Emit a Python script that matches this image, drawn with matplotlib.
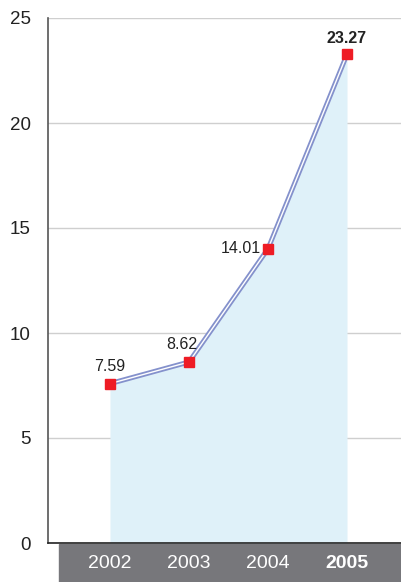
import matplotlib.pyplot as plt
from matplotlib.patches import Rectangle

years = ['2002', '2003', '2004', '2005']
values = [7.59, 8.62, 14.01, 23.27]
labels = ['7.59', '8.62', '14.01', '23.27']
yticks = [0, 5, 10, 15, 20, 25]

plt.rcParams['font.family'] = ['Liberation Sans', 'DejaVu Sans']

fig = plt.figure(figsize=(4.01, 5.82), dpi=100)
ax = fig.add_axes([47.5 / 401, 39 / 582, 1 - 47.5 / 401, 525 / 582])
ax.set_zorder(2)

x = list(range(len(years)))

# grey band behind the year labels
fig.patches.append(Rectangle((59 / 401, 0), 1 - 59 / 401, 38 / 582,
                             transform=fig.transFigure, color='#77777b', zorder=1))

ax.fill_between(x, values, 0, color='#dff1f9', zorder=1, lw=0)
ax.plot(x, values, color='#8491cc', lw=3.6, zorder=3, solid_capstyle='butt')
ax.plot(x, values, color='white', lw=1.0, zorder=4)
ax.plot(x, values, ls='none', marker='s', ms=6.5, color='#ee1c25', zorder=5)

# value labels
lbl = dict(fontsize=11.5, color='#222222', textcoords='offset points')
ax.annotate(labels[0], (x[0], values[0]), xytext=(0, 7), ha='center', va='bottom', **lbl)
ax.annotate(labels[1], (x[1], values[1]), xytext=(-5, 7), ha='center', va='bottom', **lbl)
ax.annotate(labels[2], (x[2], values[2]), xytext=(-5, 0), ha='right', va='center', **lbl)
ax.annotate(labels[3], (x[3], values[3]), xytext=(0, 6), ha='center', va='bottom',
            fontweight='bold', **lbl)

ax.set_xlim(-(110 - 47.5) / 79, 3 + (401 - 347) / 79)
ax.set_ylim(0, 25)
ax.set_yticks(yticks)
ax.set_yticklabels([str(t) for t in yticks], fontsize=13.5, color='#222222')
ax.tick_params(axis='y', length=0, pad=12)
ax.yaxis.grid(True, color='#cfcfcf', lw=1.0)
ax.set_axisbelow(True)

ax.set_xticks(x)
ax.set_xticklabels(years, fontsize=14, color='white')
ax.get_xticklabels()[-1].set_fontweight('bold')
ax.tick_params(axis='x', length=0, pad=9)

for s in ['top', 'right']:
    ax.spines[s].set_visible(False)
ax.spines['left'].set_color('#555555')
ax.spines['left'].set_linewidth(1.2)
ax.spines['bottom'].set_color('#222222')
ax.spines['bottom'].set_linewidth(1.2)

fig.savefig('out.png', dpi=100)
